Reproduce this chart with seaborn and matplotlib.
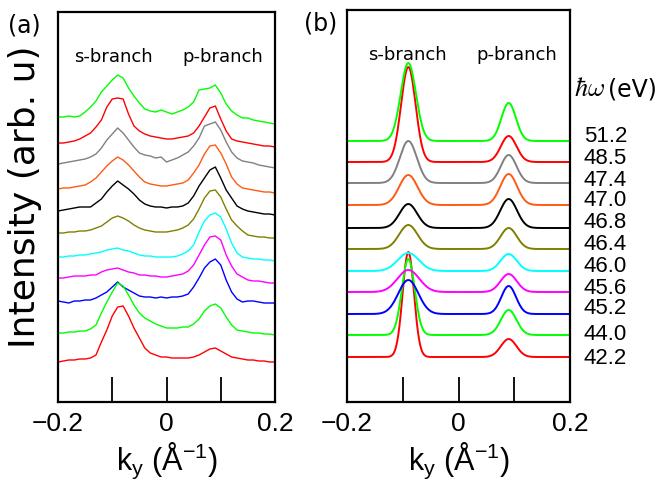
import numpy as np
import pandas as pd
import matplotlib
matplotlib.use("Agg")
import matplotlib.pyplot as plt
import seaborn as sns
from matplotlib import font_manager

# ---------------------------------------------------------------- data
# photon energies (eV), listed from the top trace to the bottom trace
energies = ["51.2", "48.5", "47.4", "47.0", "46.8", "46.4",
            "46.0", "45.6", "45.2", "44.0", "42.2"]
colors = ["#00ff00", "#ff0000", "#808080", "#ff5a14", "#000000", "#808000",
          "#00ffff", "#ff00ff", "#0000ff", "#00ff00", "#ff0000"]

# (a) measured momentum distribution curves, stacked (arb. u.)
k_meas = [-0.20, -0.19, -0.18, -0.17, -0.16, -0.15, -0.14, -0.13, -0.12, -0.11,
          -0.10, -0.09, -0.08, -0.07, -0.06, -0.05, -0.04, -0.03, -0.02, -0.01,
          0.00, 0.01, 0.02, 0.03, 0.04, 0.05, 0.06, 0.07, 0.08, 0.09,
          0.10, 0.11, 0.12, 0.13, 0.14, 0.15, 0.16, 0.17, 0.18, 0.19, 0.20]
mdc_512 = [285, 285, 286, 285, 286, 290, 295, 301, 310, 316, 322, 327, 324, 314,
           306, 299, 293, 291, 290, 292, 290, 288, 290, 292, 295, 300, 312, 313,
           314, 317, 309, 298, 291, 287, 284, 284, 282, 281, 280, 279, 278]
mdc_485 = [259, 259, 260, 261, 263, 266, 269, 275, 282, 295, 303, 304, 303, 288,
           276, 271, 268, 266, 265, 264, 263, 263, 264, 265, 266, 269, 276, 285,
           294, 296, 283, 271, 263, 261, 260, 259, 258, 257, 256, 256, 255]
mdc_474 = [238, 239, 240, 241, 242, 243, 245, 248, 254, 262, 268, 274, 269, 262,
           255, 249, 247, 246, 244, 245, 240, 242, 244, 247, 250, 256, 264, 276,
           278, 280, 272, 260, 250, 244, 241, 240, 239, 237, 236, 235, 234]
mdc_470 = [213, 214, 214, 215, 216, 217, 220, 224, 230, 236, 241, 245, 242, 237,
           231, 225, 220, 218, 217, 216, 216, 217, 218, 219, 222, 229, 237, 248,
           256, 257, 249, 238, 225, 218, 214, 213, 212, 211, 210, 210, 209]
mdc_468 = [191, 192, 193, 194, 195, 195, 195, 199, 203, 210, 216, 221, 217, 213,
           208, 202, 198, 196, 195, 195, 194, 195, 195, 196, 199, 206, 216, 224,
           232, 235, 224, 212, 204, 196, 193, 191, 190, 189, 188, 188, 187]
mdc_464 = [169, 169, 170, 170, 171, 171, 172, 174, 176, 180, 184, 186, 184, 181,
           177, 174, 172, 171, 170, 170, 170, 171, 172, 174, 177, 183, 193, 204,
           211, 212, 205, 193, 182, 176, 171, 167, 166, 165, 165, 164, 164]
mdc_460 = [145, 145, 146, 146, 147, 147, 148, 149, 150, 152, 153, 154, 152, 151,
           149, 147, 146, 146, 145, 145, 145, 145, 146, 148, 151, 157, 170, 181,
           187, 189, 185, 173, 159, 149, 145, 144, 143, 143, 142, 142, 141]
mdc_456 = [124, 124, 125, 126, 126, 126, 127, 127, 130, 132, 133, 134, 132, 130,
           129, 127, 127, 126, 126, 125, 125, 126, 127, 128, 131, 137, 147, 157,
           165, 166, 162, 147, 136, 128, 125, 122, 121, 121, 120, 119, 119]
mdc_452 = [101, 100, 99, 101, 101, 102, 102, 104, 107, 110, 115, 120, 115, 112,
           109, 106, 105, 105, 104, 105, 104, 105, 105, 106, 108, 115, 124, 134,
           140, 143, 137, 122, 110, 103, 100, 101, 101, 100, 99, 99, 99]
mdc_440 = [69, 69, 70, 70, 71, 71, 73, 77, 89, 100, 110, 119, 116, 107, 97, 89,
           84, 81, 78, 76, 74, 74, 74, 75, 75, 78, 83, 91, 96, 98, 94, 85, 77,
           72, 71, 70, 69, 69, 68, 68, 67]
mdc_422 = [40, 41, 42, 42, 43, 43, 44, 47, 60, 72, 86, 95, 96, 86, 74, 64, 54,
           49, 47, 45, 45, 44, 44, 44, 44, 45, 47, 50, 53, 54, 51, 48, 45, 44,
           43, 42, 42, 41, 41, 40, 40]
mdcs = [mdc_512, mdc_485, mdc_474, mdc_470, mdc_468, mdc_464,
        mdc_460, mdc_456, mdc_452, mdc_440, mdc_422]

# (b) two-Gaussian model: s-branch and p-branch peaks for each energy
k_s, k_p = -0.09, 0.09
offset_b = [261, 240, 219, 197, 174, 153, 131, 110, 88, 67, 45]
s_amp = [78, 95, 42, 30, 24, 24, 18, 22, 34, 76, 105]
s_sigma = [0.0137, 0.0130, 0.0152, 0.0165, 0.0158, 0.0165,
           0.0190, 0.0196, 0.0180, 0.0115, 0.0102]
p_amp = [38, 26, 28, 31, 29, 21, 17, 18, 28, 25, 18]
p_sigma = [0.0130, 0.0140, 0.0140, 0.0150, 0.0150, 0.0145,
           0.0145, 0.0145, 0.0132, 0.0140, 0.0139]

# ---------------------------------------------------------------- style
sns.set_style("white")
available = {f.name for f in font_manager.fontManager.ttflist}
narrow = "Liberation Sans Narrow" if "Liberation Sans Narrow" in available else "Liberation Sans"
plt.rcParams["font.family"] = ["DejaVu Sans"]
plt.rcParams["mathtext.fontset"] = "custom"
plt.rcParams["mathtext.rm"] = narrow
plt.rcParams["mathtext.it"] = narrow
plt.rcParams["text.color"] = "black"
plt.rcParams["axes.labelcolor"] = "black"
plt.rcParams["xtick.color"] = "black"
plt.rcParams["axes.edgecolor"] = "black"

W, H = 663, 493
fig = plt.figure(figsize=(W / 100, H / 100), dpi=100)
ax_a = fig.add_axes([58 / W, 1 - 402 / H, 217 / W, 390 / H])
ax_b = fig.add_axes([347 / W, 1 - 402 / H, 223 / W, 392 / H])

# panel (a): measured curves
rows = []
for e, vals in zip(energies, mdcs):
    for k, v in zip(k_meas, vals):
        rows.append({"k": k, "I": v, "E": e})
df_a = pd.DataFrame(rows)
sns.lineplot(data=df_a, x="k", y="I", hue="E", hue_order=energies,
             palette=colors, linewidth=1.0, legend=False, ax=ax_a)
ax_a.set_ylim(0, 390)

# panel (b): model curves
k_fit = np.linspace(-0.2, 0.2, 401)
rows = []
for i, e in enumerate(energies):
    prof = (offset_b[i]
            + s_amp[i] * np.exp(-(k_fit - k_s) ** 2 / (2 * s_sigma[i] ** 2))
            + p_amp[i] * np.exp(-(k_fit - k_p) ** 2 / (2 * p_sigma[i] ** 2)))
    rows.append(pd.DataFrame({"k": k_fit, "I": prof, "E": e}))
df_b = pd.concat(rows)
sns.lineplot(data=df_b, x="k", y="I", hue="E", hue_order=energies[::-1],
             palette=colors[::-1], linewidth=1.4, legend=False, ax=ax_b)
ax_b.set_ylim(0, 392)

for ax in (ax_a, ax_b):
    ax.set_xlim(-0.2, 0.2)
    ax.set_xticks([-0.2, -0.1, 0.0, 0.1, 0.2])
    ax.set_xticklabels(["\u22120.2", "", "0", "", "0.2"])
    ax.set_yticks([])
    ax.set_ylabel("")
    ax.tick_params(axis="x", direction="in", length=18, width=1.3,
                   pad=7, labelsize=19, bottom=True, top=False)
    for lab in ax.get_xticklabels():
        lab.set_fontfamily(narrow)
    ax.set_xlabel(r"k$_{\mathrm{y}}$ (Å$^{\mathrm{-1}}$)", fontsize=22,
                  fontfamily=narrow, labelpad=4)
    for s in ax.spines.values():
        s.set_linewidth(1.6)

ax_a.text(-0.0975, 340, "s-branch", ha="center", va="baseline", fontsize=13)
ax_a.text(0.1045, 340, "p-branch", ha="center", va="baseline", fontsize=13)
ax_b.text(-0.092, 342, "s-branch", ha="center", va="baseline", fontsize=13)
ax_b.text(0.105, 342, "p-branch", ha="center", va="baseline", fontsize=13)

fig.text(24 / W, 1 - 26 / H, "(a)", ha="center", va="center", fontsize=17)
fig.text(321 / W, 1 - 24 / H, "(b)", ha="center", va="center", fontsize=17)
fig.text(25 / W, 1 - 197 / H, "Intensity (arb. u)", rotation=90,
         ha="center", va="center", fontsize=26)

fig.text(574 / W, 1 - 89 / H, r"$\hbar\omega$", math_fontfamily="cm",
         ha="left", va="center", fontsize=19)
fig.text(608 / W, 1 - 90 / H, "(eV)", ha="left", va="center", fontsize=17)

label_y = [136, 158, 180, 201, 223, 244, 266, 288, 308, 335, 358]
for e, y in zip(energies, label_y):
    fig.text(627 / W, 1 - y / H, e, ha="right", va="center",
             fontsize=16, fontfamily=narrow)

fig.savefig("out.png", dpi=100)
